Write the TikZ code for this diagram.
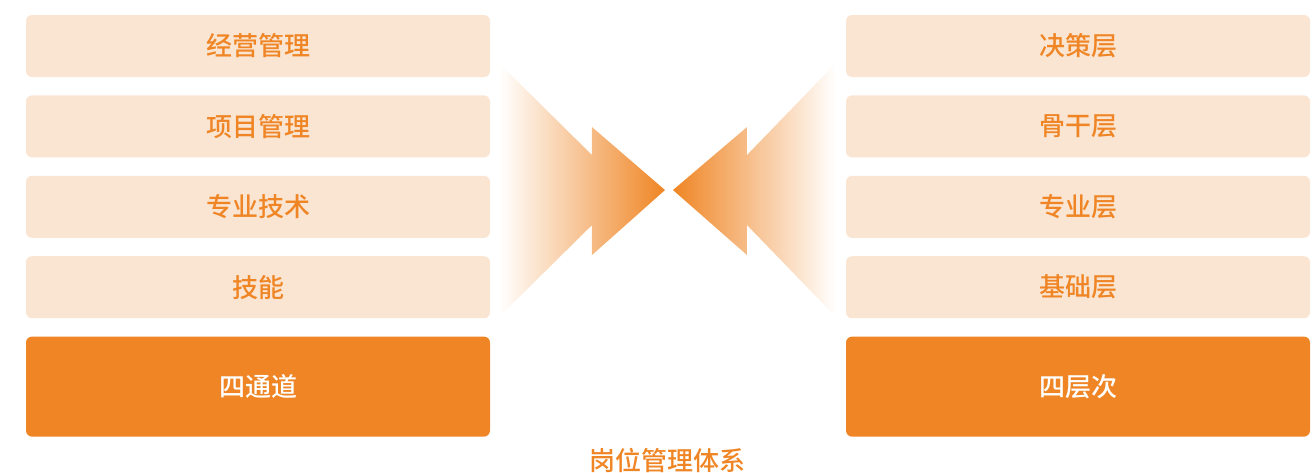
\documentclass[tikz,border=0pt]{standalone}
\usepackage{fontspec}
\newfontfamily\cjk{Noto Sans CJK SC}[BoldFont={Noto Sans CJK SC Medium}]
\usetikzlibrary{positioning,fadings}
\definecolor{OR}{HTML}{EF8524}
\definecolor{PE}{HTML}{FAE5D3}
\tikzset{
    RA1/.style ={rectangle,rounded corners=6pt,minimum width=464pt,minimum height=62pt,fill=PE,text=OR,font=\cjk\bfseries\fontsize{26pt}{28pt}\selectfont},
    RA2/.style ={RA1,minimum height=100pt,fill=OR,text=white},
    AL/.style ={fill=OR,path fading=west},
    AR/.style ={fill=OR,path fading=east}
}
\begin{document}
\begin{tikzpicture}[x=1pt,y=-1pt]
    \useasboundingbox (0,0) rectangle (1315,472);
    % left column
    \node[RA1] (L1) at (258,46) {经营管理};
    \node[RA1,below=18pt of L1] (L2) {项目管理};
    \node[RA1,below=18pt of L2] (L3) {专业技术};
    \node[RA1,below=18pt of L3] (L4) {技能};
    \node[RA2,below=18pt of L4] (L5) {四通道};
    % right column
    \node[RA1] (R1) at (1078,46) {决策层};
    \node[RA1,below=18pt of R1] (R2) {骨干层};
    \node[RA1,below=18pt of R2] (R3) {专业层};
    \node[RA1,below=18pt of R3] (R4) {基础层};
    \node[RA2,below=18pt of R4] (R5) {四层次};
    % arrows
    \fill[AL] (500,64) -- (592,155) -- (592,127) -- (665,190) -- (592,255) -- (592,225) -- (500,316) -- cycle;
    \fill[AR] (673,190) -- (747,127) -- (747,155) -- (835,64) -- (835,316) -- (747,225) -- (747,255) -- cycle;
    \node[text=OR,font=\cjk\bfseries\fontsize{26pt}{28pt}\selectfont] (T) at (667,460) {岗位管理体系};
\end{tikzpicture}
\end{document}
